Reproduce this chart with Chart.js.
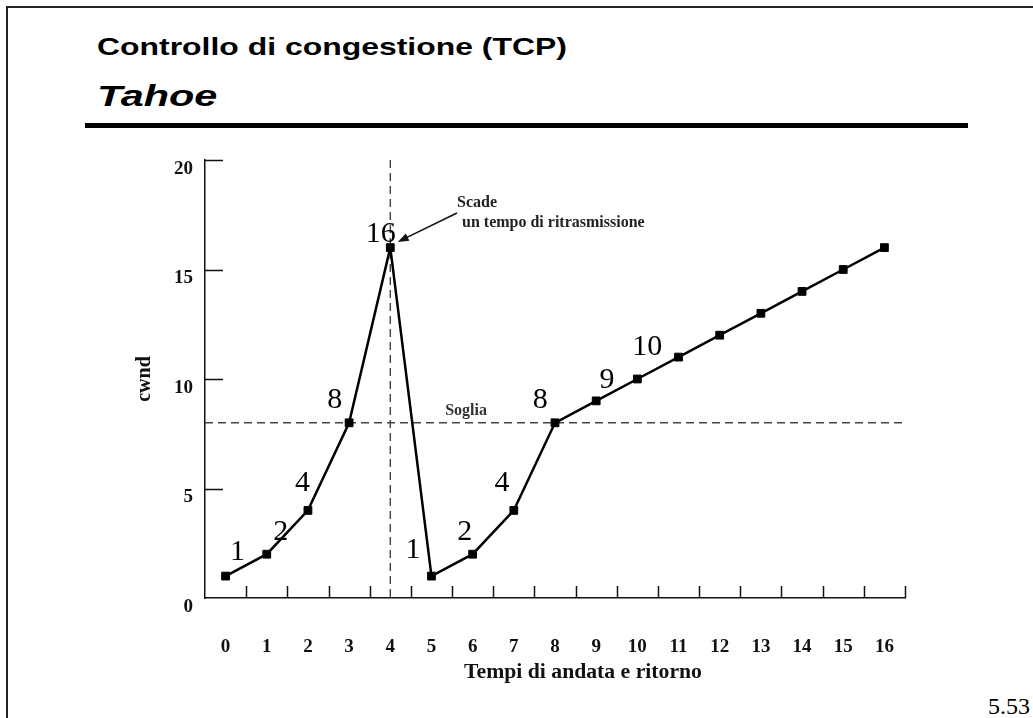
<!DOCTYPE html>
<html>
<head>
<meta charset="utf-8">
<script src="https://cdn.jsdelivr.net/npm/chart.js@4.4.1/dist/chart.umd.min.js"></script>
<style>
  html, body { margin: 0; padding: 0; background: #fff; }
  body { width: 1033px; height: 718px; position: relative; overflow: hidden; }
  #frame { position: absolute; left: 6px; top: 6px; width: 1040px; height: 730px;
           border-left: 2px solid #222; border-top: 2px solid #222; }
  .title { position: absolute; left: 97px; color: #000; font-family: "Liberation Sans", Arial, sans-serif;
           font-weight: bold; line-height: 1; white-space: nowrap; transform-origin: 0 0; }
  #t1 { top: 35px; font-size: 24px; transform: scaleX(1.33); }
  #t2 { top: 81px; font-size: 30px; font-style: italic; transform: scaleX(1.38); }
  #rule { position: absolute; left: 85px; top: 123px; width: 883px; height: 5px; background: #000; }
  #page { position: absolute; right: 3px; top: 694px; font-family: "Liberation Serif", "Times New Roman", serif;
          font-size: 24px; line-height: 1; color: #000; }
  #c { position: absolute; left: 0; top: 0; }
</style>
</head>
<body>
<div id="frame"></div>
<div class="title" id="t1">Controllo di congestione (TCP)</div>
<div class="title" id="t2">Tahoe</div>
<div id="rule"></div>
<div id="page">5.53</div>
<canvas id="c" width="1033" height="718"></canvas>
<script>
// ---- data ----
const rounds = ['0','1','2','3','4','5','6','7','8','9','10','11','12','13','14','15','16'];
const cwnd = [1, 2, 4, 8, 16, 1, 2, 4, 8, 9, 10, 11, 12, 13, 14, 15, 16];
const yMin = 0, yMax = 20, yStep = 5;
const threshold = 8;        // "Soglia"
const timeoutRound = 4;     // retransmission timeout
// value labels written beside the curve (text, anchor in data units)
const valueLabelText = ['1', '2', '4', '8', '16', '1', '2', '4', '8', '9', '10'];
const valueLabelX    = [0.29, 1.34, 1.87, 2.65, 3.77, 4.55, 5.81, 6.71, 7.64, 9.26, 10.24];
const valueLabelY    = [2.19, 3.10, 5.34, 9.13, 16.71, 2.28, 3.10, 5.34, 9.13, 10.05, 11.55];
// timeout note
const noteLines = ['Scade', ' un tempo di ritrasmissione'];
const noteAnchor = { x: 5.62, y: 17.6 };
const arrowFrom = { x: 5.62, y: 17.58 };
const arrowTo   = { x: 4.18, y: 16.26 };
const thresholdLabel = 'Soglia';
const thresholdLabelX = 5.84;
const xTitle = 'Tempi di andata e ritorno';
const yTitle = 'cwnd';

const serif = '"Liberation Serif", "Times New Roman", serif';

const decor = {
  id: 'decor',
  beforeDatasetsDraw(chart) {
    const { ctx, chartArea: a, scales: { x, y } } = chart;
    ctx.save();
    // dashed reference lines
    ctx.strokeStyle = '#444';
    ctx.lineWidth = 1.4;
    ctx.setLineDash([8, 5]);
    const ty = y.getPixelForValue(threshold);
    ctx.beginPath(); ctx.moveTo(a.left, ty); ctx.lineTo(a.right, ty); ctx.stroke();
    const tx = x.getPixelForValue(timeoutRound);
    ctx.beginPath(); ctx.moveTo(tx, a.top); ctx.lineTo(tx, a.bottom); ctx.stroke();
    ctx.setLineDash([]);
    // inward tick marks
    ctx.strokeStyle = '#111';
    ctx.lineWidth = 1.5;
    ctx.beginPath();
    for (let i = 0; i < rounds.length; i++) {
      const px = Math.round(x.getPixelForValue(i + 0.5)) + 0.5;
      ctx.moveTo(px, a.bottom); ctx.lineTo(px, a.bottom - 12);
    }
    y.ticks.forEach(t => {
      if (t.value === yMin) return;
      const py = Math.round(y.getPixelForValue(t.value)) + 0.5;
      ctx.moveTo(a.left, py); ctx.lineTo(a.left + 18, py);
    });
    ctx.stroke();
    // threshold label
    ctx.fillStyle = '#333';
    ctx.font = 'bold 16px ' + serif;
    ctx.textAlign = 'center';
    ctx.textBaseline = 'alphabetic';
    ctx.fillText(thresholdLabel, x.getPixelForValue(thresholdLabelX), ty - 8);
    ctx.restore();
  },
  afterDatasetsDraw(chart) {
    const { ctx, chartArea: a, scales: { x, y } } = chart;
    ctx.save();
    // value labels
    ctx.fillStyle = '#000';
    ctx.font = '30px ' + serif;
    ctx.textAlign = 'center';
    ctx.textBaseline = 'alphabetic';
    for (let i = 0; i < valueLabelText.length; i++) {
      ctx.fillText(valueLabelText[i], x.getPixelForValue(valueLabelX[i]), y.getPixelForValue(valueLabelY[i]) + 10);
    }
    // note
    ctx.fillStyle = '#222';
    ctx.font = 'bold 16px ' + serif;
    ctx.textAlign = 'left';
    const nx = x.getPixelForValue(noteAnchor.x), ny = y.getPixelForValue(noteAnchor.y);
    ctx.fillText(noteLines[0], nx, ny - 6);
    ctx.fillText(noteLines[1], nx + 1, ny + 14);
    // arrow
    const x1 = x.getPixelForValue(arrowFrom.x), y1 = y.getPixelForValue(arrowFrom.y);
    const x2 = x.getPixelForValue(arrowTo.x),   y2 = y.getPixelForValue(arrowTo.y);
    const ang = Math.atan2(y2 - y1, x2 - x1);
    ctx.strokeStyle = '#111';
    ctx.lineWidth = 1.6;
    ctx.beginPath(); ctx.moveTo(x1, y1);
    ctx.lineTo(x2 - 8 * Math.cos(ang), y2 - 8 * Math.sin(ang)); ctx.stroke();
    ctx.fillStyle = '#111';
    ctx.beginPath();
    ctx.moveTo(x2, y2);
    ctx.lineTo(x2 - 11 * Math.cos(ang) + 4 * Math.sin(ang), y2 - 11 * Math.sin(ang) - 4 * Math.cos(ang));
    ctx.lineTo(x2 - 11 * Math.cos(ang) - 4 * Math.sin(ang), y2 - 11 * Math.sin(ang) + 4 * Math.cos(ang));
    ctx.closePath(); ctx.fill();
    // x axis title
    ctx.fillStyle = '#111';
    ctx.font = 'bold 20px ' + serif;
    ctx.textAlign = 'center';
    ctx.translate((a.left + a.right) / 2 + 28, a.bottom + 80);
    ctx.scale(1.085, 1);
    ctx.fillText(xTitle, 0, 0);
    ctx.restore();
  }
};

new Chart(document.getElementById('c'), {
  type: 'line',
  data: {
    labels: rounds,
    datasets: [{
      data: cwnd,
      borderColor: '#000',
      borderWidth: 2.5,
      tension: 0,
      pointStyle: 'rect',
      pointRadius: 5.5,
      pointBackgroundColor: '#000',
      pointBorderColor: '#000',
      pointBorderWidth: 1,
      clip: false
    }]
  },
  options: {
    responsive: false,
    animation: false,
    devicePixelRatio: 1,
    layout: { padding: { left: 0, top: 160, right: 128, bottom: 0 } },
    plugins: { legend: { display: false }, tooltip: { enabled: false } },
    scales: {
      x: {
        type: 'category',
        offset: true,
        grid: { display: true, offset: true, drawOnChartArea: false, drawTicks: false },
        border: { display: true, color: '#111', width: 1.5 },
        ticks: { color: '#111', padding: 38, font: { family: serif, size: 19, weight: 'bold' }, maxRotation: 0, autoSkip: false },
        afterFit(s) { s.height = 120; }
      },
      y: {
        min: yMin, max: yMax,
        grid: { display: true, drawOnChartArea: false, drawTicks: false },
        border: { display: true, color: '#111', width: 1.5 },
        ticks: { stepSize: yStep, color: '#111', padding: 12, labelOffset: 9, font: { family: serif, size: 19, weight: 'bold' } },
        title: { display: true, text: yTitle, color: '#111', padding: { top: 133, bottom: 0 }, font: { family: serif, size: 20, weight: 'bold' } },
        afterFit(s) { s.width = 205; }
      }
    }
  },
  plugins: [decor]
});
</script>
</body>
</html>
